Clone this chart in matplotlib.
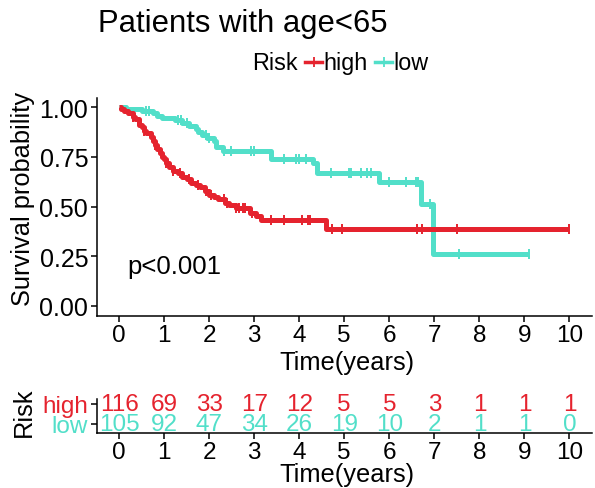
import numpy as np
import matplotlib
matplotlib.use("Agg")
import matplotlib.pyplot as plt
from matplotlib.lines import Line2D

plt.rcParams['font.family'] = ['Liberation Sans', 'DejaVu Sans']

# ---------------- data ----------------
title = "Patients with age<65"
groups = ["high", "low"]
colors = {"high": "#E5232E", "low": "#52DFC9"}

high_times = [0, 0.05, 0.1, 0.2, 0.3, 0.35, 0.45, 0.5, 0.55, 0.6, 0.7, 0.75, 0.8, 0.85,
              0.9, 0.95, 1.0, 1.05, 1.1, 1.2, 1.3, 1.4, 1.5, 1.6, 1.7, 1.8, 1.9, 2.0,
              2.1, 2.2, 2.35, 2.45, 2.6, 2.9, 3.05, 3.15, 4.6, 10.0]
high_surv = [1.0, 0.99, 0.98, 0.97, 0.95, 0.94, 0.91, 0.90, 0.88, 0.87, 0.85, 0.83, 0.81, 0.79,
             0.77, 0.75, 0.74, 0.72, 0.70, 0.68, 0.67, 0.65, 0.64, 0.62, 0.61, 0.60, 0.58, 0.56,
             0.55, 0.54, 0.52, 0.51, 0.49, 0.465, 0.45, 0.43, 0.385, 0.385]
high_censor = [0.3, 0.55, 0.8, 1.05, 1.2, 1.35, 1.55, 1.75, 1.93, 2.05, 2.33, 2.4, 2.6, 2.67,
               2.75, 2.8, 2.96, 3.37, 3.67, 4.07, 4.2, 4.25, 4.73, 4.96, 6.62, 6.73, 7.5, 10.0]

low_times = [0, 0.15, 0.5, 0.75, 0.85, 0.95, 1.25, 1.4, 1.55, 1.7, 1.75, 1.85, 1.95, 2.1,
             2.15, 2.3, 3.37, 4.3, 4.4, 5.78, 6.7, 6.97, 9.1]
low_surv = [1.0, 0.99, 0.98, 0.97, 0.955, 0.945, 0.935, 0.92, 0.905, 0.89, 0.875, 0.86, 0.845, 0.83,
            0.80, 0.78, 0.74, 0.72, 0.67, 0.625, 0.515, 0.26, 0.26]
low_censor = [0.6, 0.67, 1.3, 1.38, 1.5, 1.93, 2.0, 2.33, 2.48, 2.92, 3.0, 3.67, 3.93, 4.0,
              4.15, 4.7, 5.1, 5.15, 5.37, 5.5, 5.6, 6.0, 6.37, 6.6, 6.63, 6.9, 7.55, 9.1]

risk_ticks = [0, 1, 2, 3, 4, 5, 6, 7, 8, 9, 10]
high_risk = [116, 69, 33, 17, 12, 5, 5, 3, 1, 1, 1]
low_risk = [105, 92, 47, 34, 26, 19, 10, 2, 1, 1, 0]
y_ticks = [0, 0.25, 0.5, 0.75, 1.0]
y_tick_labels = ["0.00", "0.25", "0.50", "0.75", "1.00"]
pval_text = "p<0.001"

curves = {"high": (high_times, high_surv, high_censor),
          "low": (low_times, low_surv, low_censor)}
risk = {"high": high_risk, "low": low_risk}

# ---------------- figure ----------------
W, H = 595, 489
fig = plt.figure(figsize=(W / 100, H / 100), dpi=100)

def fx(px):
    return px / W

def fy(py):
    return 1 - py / H

ax = fig.add_axes([fx(96.5), fy(316.5), fx(592) - fx(96.5), fy(98.5) - fy(316.5)])
for g in ["low", "high"]:
    t, s, c = curves[g]
    ax.step(t, s, where="post", color=colors[g], lw=3.6, solid_capstyle="butt", zorder=3)
    t_arr = np.array(t)
    s_arr = np.array(s)
    idx = np.searchsorted(t_arr, np.array(c), side="right") - 1
    ax.plot(c, s_arr[idx], ls="none", marker="|", ms=7.5, mew=1.4,
            color=colors[g], zorder=4)

ax.set_xlim(-0.5, 10.5)
ax.set_ylim(-0.05, 1.05)
ax.set_xticks(risk_ticks)
ax.set_xticklabels([str(v) for v in risk_ticks])
ax.set_yticks(y_ticks)
ax.set_yticklabels(y_tick_labels)
for sp in ["top", "right"]:
    ax.spines[sp].set_visible(False)
for sp in ["left", "bottom"]:
    ax.spines[sp].set_linewidth(1.1)
ax.tick_params(axis="x", labelsize=17.5, length=4, width=1.1, pad=2, colors="black")
ax.tick_params(axis="y", labelsize=18, length=4, width=1.1, pad=2, colors="black")
ax.text(0.18, 0.2, pval_text, fontsize=18.5, va="center", ha="left")

# labels
fig.text(fx(23), fy(199), "Survival probability", rotation=90, fontsize=18.3,
         ha="center", va="center")
fig.text(fx(346.5), fy(370), "Time(years)", fontsize=18.3, ha="center", va="baseline")
fig.text(fx(98), fy(31.7), title, fontsize=22.3, ha="left", va="baseline")

# legend
fig.text(fx(252), fy(70), "Risk", fontsize=16.8, ha="left", va="baseline")
for g, (x0, x1, xt) in zip(groups, [(305, 322, 323.5), (375, 392, 393.5)]):
    fig.add_artist(Line2D([fx(x0), fx(x1)], [fy(63), fy(63)], transform=fig.transFigure,
                          color=colors[g], lw=2.5))
    fig.add_artist(Line2D([fx((x0 + x1) / 2)], [fy(63)], transform=fig.transFigure,
                          color=colors[g], marker="|", ms=7, mew=1.3))
    fig.text(fx(xt), fy(70), g, fontsize=16.8, ha="left", va="baseline")

# ---------------- risk table ----------------
tax = fig.add_axes([fx(96.5), fy(434), fx(592) - fx(96.5), fy(400) - fy(434)])
tax.set_xlim(-0.5, 10.5)
tax.set_ylim(-0.45, 1.25)
for row, g in [(1, "high"), (0, "low")]:
    for x, n in zip(risk_ticks, risk[g]):
        tax.text(x, row, str(n), color=colors[g], fontsize=17.5, ha="center", va="center")
tax.set_yticks([1, 0])
tax.set_yticklabels(groups)
for lbl, g in zip(tax.get_yticklabels(), groups):
    lbl.set_color(colors[g])
tax.set_xticks(risk_ticks)
tax.set_xticklabels([str(v) for v in risk_ticks])
for sp in ["top", "right"]:
    tax.spines[sp].set_visible(False)
for sp in ["left", "bottom"]:
    tax.spines[sp].set_linewidth(1.1)
tax.tick_params(axis="both", labelsize=17.5, length=4, width=1.1, pad=2)
fig.text(fx(24), fy(412), "Risk", rotation=90, fontsize=18.3, ha="center", va="center")
fig.text(fx(346.5), fy(482), "Time(years)", fontsize=18.3, ha="center", va="baseline")

fig.savefig("out.png", dpi=100)
